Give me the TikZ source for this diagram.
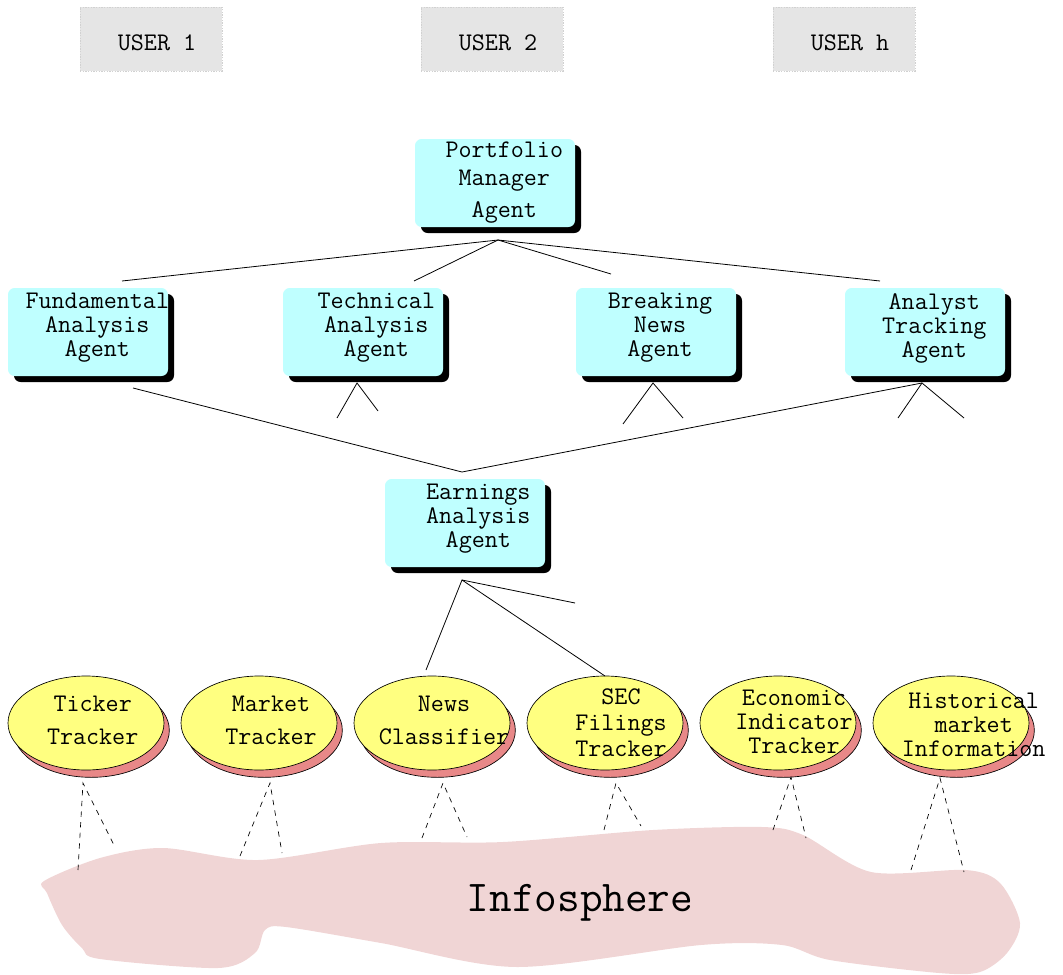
\documentclass[tikz,border=0pt]{standalone}
\usepackage{fontspec}
\usetikzlibrary{positioning,shapes.geometric,shadows}
\definecolor{agentcyan}{HTML}{BFFFFF}
\definecolor{trackyellow}{HTML}{FFFF80}
\definecolor{trackshade}{HTML}{E88888}
\definecolor{spherepink}{HTML}{F0D5D5}
\definecolor{usergray}{HTML}{E5E5E5}
\begin{document}
\begin{tikzpicture}[x=0.75pt,y=-0.75pt,node distance=129.75pt,
    every node/.style={font=\ttfamily\fontsize{19}{18}\selectfont},
    user/.style={fill=usergray, draw=black!18, dash pattern=on 1pt off 1pt,
      minimum width=106.5pt, minimum height=48pt},
    agent/.style={fill=agentcyan, rounded corners=5pt, minimum width=120pt,
      minimum height=66pt,
      drop shadow={shadow xshift=4.5pt, shadow yshift=-4.5pt, fill=black, opacity=1}},
    tracker/.style={ellipse, draw=black, line width=0.5pt, fill=trackyellow,
      minimum width=117pt, minimum height=70.5pt,
      drop shadow={shadow xshift=4pt, shadow yshift=-5.5pt, fill=trackshade,
        draw=black, opacity=1}},
    word/.style={align=center, inner sep=0pt},
    link/.style={line width=0.6pt},
    feed/.style={line width=0.5pt, dash pattern=on 4pt off 4pt}]
    \useasboundingbox (0,0) rectangle (1063,974);

    % infosphere
    \fill[spherepink] plot[smooth cycle, tension=0.5] coordinates {
        (44,881) (100,858) (163,848) (258,860) (381,843) (503,842) (653,830)
        (762,827) (803,835) (871,872) (966,870) (1000,883) (1020,923)
        (1007,953) (980,972) (939,973) (830,960) (782,945) (701,945)
        (517,967) (381,943) (286,927) (265,930) (255,953) (218,968)
        (100,959) (82,948) (62,925) (47,893)};
    \node[font=\ttfamily\fontsize{33}{36}\selectfont] (sphere) at (580,903) {Infosphere};

    % users
    \node[user, label={[word, xshift=4.5pt, yshift=-2.5pt]center:USER 1}] (user1) at (151,39) {};
    \node[user, label={[word, xshift=4.5pt, yshift=-2.5pt]center:USER 2}] (user2) at (492,39) {};
    \node[user, label={[word, xshift=4.5pt, yshift=-2.5pt]center:USER h}] (userh) at (844,39) {};

    % agents
    \node[agent, label={[word, xshift=7pt, yshift=0pt]center:Portfolio\\[3pt]Manager\\[6pt]Agent}] (pm) at (495,183) {};
    \node[agent, label={[word, xshift=7pt, yshift=3pt]center:Fundamental\\Analysis\\Agent}] (fa) at (88,332) {};
    \node[agent, label={[word, xshift=10pt, yshift=3pt]center:Technical\\Analysis\\Agent}] (ta) at (363,332) {};
    \node[agent, label={[word, xshift=3pt, yshift=3pt]center:Breaking\\News\\Agent}] (bn) at (656,332) {};
    \node[agent, label={[word, xshift=7pt, yshift=3pt]center:Analyst\\Tracking\\Agent}] (at) at (925,332) {};
    \node[agent, label={[word, xshift=10pt, yshift=3pt]center:Earnings\\Analysis\\Agent}] (ea) at (465,523) {};

    % trackers
    \node[tracker, label={[word, xshift=5pt, yshift=2pt]center:Ticker\\[7pt]Tracker}] (ticker) at (86,723) {};
    \node[tracker, label={[word, xshift=9pt, yshift=2pt]center:Market\\[7pt]Tracker}, right of=ticker] (market) {};
    \node[tracker, label={[word, xshift=9pt, yshift=2pt]center:News\\[7pt]Classifier}, right of=market] (news) {};
    \node[tracker, label={[word, xshift=12pt, yshift=0pt]center:SEC\\[1pt]Filings\\[2pt]Tracker}, right of=news] (sec) {};
    \node[tracker, label={[word, xshift=12pt, yshift=1pt]center:Economic\\Indicator\\Tracker}, right of=sec] (econ) {};
    \node[tracker, label={[word, xshift=17pt, yshift=-1pt]center:Historical\\market\\Information}, right of=econ] (hist) {};

    % fan below the portfolio manager
    \coordinate (pm-apex) at (498,240);
    \coordinate (fa-in) at (122,281);
    \coordinate (ta-in) at (414,281);
    \coordinate (bn-in) at (611,274);
    \coordinate (at-in) at (880,281);
    \foreach \t in {fa-in,ta-in,bn-in,at-in}
        \draw[link] (pm-apex) -- (\t);

    % earnings agent links
    \coordinate (ea-apex) at (462,472);
    \coordinate (fa-out) at (133,388);
    \coordinate (at-foot) at (922,383);
    \draw[link] (fa-out) -- (ea-apex) -- (at-foot);

    \foreach \n/\ax/\lx/\ly/\rx/\ry in {ta/357/337/418/378/411,
        bn/653/623/424/683/418, at/922/898/418/964/418}{
        \coordinate (\n-top) at (\ax,383);
        \coordinate (\n-l) at (\lx,\ly);
        \coordinate (\n-r) at (\rx,\ry);
        \draw[link] (\n-l) -- (\n-top) -- (\n-r);
    }

    \coordinate (ea-foot) at (462,580);
    \coordinate (ea-l) at (426,670);
    \coordinate (ea-m) at (575,603);
    \coordinate (ea-r) at (605,676);
    \draw[link] (ea-l) -- (ea-foot) -- (ea-r);
    \draw[link] (ea-foot) -- (ea-m);

    % dashed feeds into the infosphere
    \foreach \n/\ax/\ay/\lx/\ly/\rx/\ry in {ticker/83/783/78/870/115/847,
        market/270/783/240/856/282/853, news/443/783/422/838/467/837,
        sec/616/783/604/830/641/826, econ/791/777/773/830/806/838,
        hist/940/778/911/870/964/872}{
        \coordinate (\n-up) at (\ax,\ay);
        \coordinate (\n-dl) at (\lx,\ly);
        \coordinate (\n-dr) at (\rx,\ry);
        \draw[feed] (\n-dl) -- (\n-up) -- (\n-dr);
    }
\end{tikzpicture}
\end{document}
